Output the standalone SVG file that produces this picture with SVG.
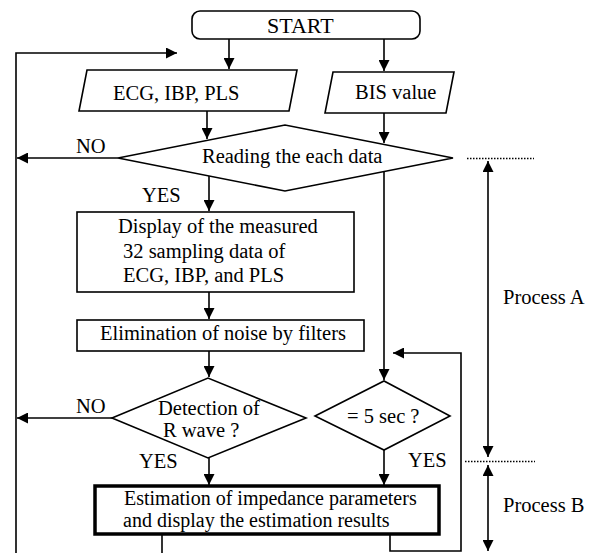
<svg xmlns="http://www.w3.org/2000/svg" width="593" height="553" viewBox="0 0 593 553">
<style>
.s{fill:#fff;stroke:#000;stroke-width:1.6}
.c{fill:none;stroke:#000;stroke-width:1.6}
.d{fill:none;stroke:#000;stroke-width:1.5;stroke-dasharray:1.5 1.5}
text{font-family:"Liberation Serif","Times New Roman","DejaVu Serif",serif;font-size:20.5px;fill:#000}
</style>
<defs>
<marker id="ah" markerUnits="userSpaceOnUse" markerWidth="11" markerHeight="11" refX="11" refY="5.5" orient="auto">
<path d="M0,0 L11,5.5 L0,11 z" fill="#000"/>
</marker>
<marker id="as" markerUnits="userSpaceOnUse" markerWidth="11" markerHeight="11" refX="11" refY="5.5" orient="auto-start-reverse">
<path d="M0,0 L11,5.5 L0,11 z" fill="#000"/>
</marker>
</defs>
<g id="connectors">
<line class="c" x1="229" y1="39" x2="229" y2="69" marker-end="url(#ah)"/>
<line class="c" x1="384" y1="39" x2="384" y2="71" marker-end="url(#ah)"/>
<polyline class="c" points="16,553 16,53 177,53" marker-end="url(#ah)"/>
<line class="c" x1="207" y1="111" x2="207" y2="139" marker-end="url(#ah)"/>
<line class="c" x1="384" y1="113" x2="384" y2="143" marker-end="url(#ah)"/>
<line class="c" x1="118" y1="158" x2="17" y2="158" marker-end="url(#ah)"/>
<line class="c" x1="209" y1="176" x2="209" y2="211" marker-end="url(#ah)"/>
<line class="c" x1="384" y1="172" x2="384" y2="380" marker-end="url(#ah)"/>
<line class="c" x1="209" y1="292" x2="209" y2="319" marker-end="url(#ah)"/>
<line class="c" x1="209" y1="351" x2="209" y2="377" marker-end="url(#ah)"/>
<polyline class="c" points="390,535 390,551 461,551 461,353 393,353" marker-end="url(#ah)"/>
<line class="c" x1="112" y1="418" x2="17" y2="418" marker-end="url(#ah)"/>
<line class="c" x1="209" y1="458" x2="209" y2="485" marker-end="url(#ah)"/>
<line class="c" x1="384" y1="450" x2="384" y2="485" marker-end="url(#ah)"/>
<line class="c" x1="162" y1="535" x2="162" y2="553"/>
<line class="c" x1="488" y1="161" x2="488" y2="457" marker-start="url(#as)" marker-end="url(#as)"/>
<line class="c" x1="488" y1="465" x2="488" y2="551" marker-start="url(#as)" marker-end="url(#as)"/>
<line class="d" x1="467" y1="158.5" x2="534" y2="158.5"/>
<line class="d" x1="465" y1="461.5" x2="535" y2="461.5"/>
</g>
<g id="start">
<rect class="s" x="192" y="11" width="228" height="28" rx="8"/>
<text x="267" y="33" style="font-size:22px">START</text>
</g>
<g id="ecg">
<polygon class="s" points="87,70 297,70 289,111 79,111"/>
<text x="113" y="100">ECG, IBP, PLS</text>
</g>
<g id="bis">
<polygon class="s" points="333,72 454,72 446,113 325,113"/>
<text x="355" y="99">BIS value</text>
</g>
<g id="reading">
<polygon class="s" points="118,158 285,125 453,158 285,191"/>
<text x="202" y="163">Reading the each data</text>
</g>
<g id="labels">
<text x="76" y="153">NO</text>
<text x="142" y="202">YES</text>
<text x="76" y="413">NO</text>
<text x="139" y="468">YES</text>
<text x="408" y="467">YES</text>
<text x="503" y="304">Process A</text>
<text x="503" y="512">Process B</text>
</g>
<g id="display">
<rect class="s" x="77" y="212" width="277" height="80"/>
<text x="118" y="233">Display of the measured</text>
<text x="123" y="258">32 sampling data of</text>
<text x="123" y="282">ECG, IBP, and PLS</text>
</g>
<g id="elimination">
<rect class="s" x="77" y="320" width="287" height="31"/>
<text x="100" y="340">Elimination of noise by filters</text>
</g>
<g id="detection">
<polygon class="s" points="112,418 208,378 306,418 208,458"/>
<text x="158" y="415">Detection of</text>
<text x="163" y="437">R wave ?</text>
</g>
<g id="fivesec">
<polygon class="s" points="315,416 384,381 450,416 384,450"/>
<text x="347" y="423">= 5 sec ?</text>
</g>
<g id="estimation">
<rect x="95" y="486" width="344" height="48" fill="#fff" stroke="#000" stroke-width="3.5"/>
<text x="124" y="505" style="font-size:20px">Estimation of impedance parameters</text>
<text x="123" y="527" style="font-size:20px">and display the estimation results</text>
</g>
</svg>
